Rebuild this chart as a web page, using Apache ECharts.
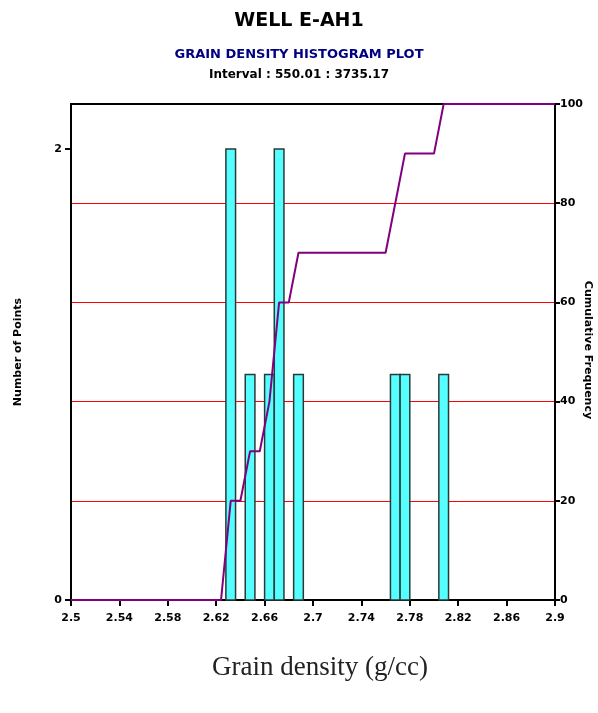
<!DOCTYPE html>
<html>
<head>
  <meta charset="utf-8">
  <title>grain density histogram</title>
  <script src="https://cdn.jsdelivr.net/npm/echarts@6/dist/echarts.min.js"></script>
  <style>
    html, body { margin: 0; padding: 0; background: #fff; }
    #main { width: 598px; height: 713px; }
  </style>
</head>
<body>
  <div id="main"></div>
  <script type="text/javascript">
    // histogram bins: start, end, count
    var binStart = [2.628, 2.644, 2.660, 2.668, 2.684, 2.764, 2.772, 2.804];
    var binEnd   = [2.636, 2.652, 2.668, 2.676, 2.692, 2.772, 2.780, 2.812];
    var counts   = [2, 1, 1, 2, 1, 1, 1, 1];

    // cumulative frequency line (vertices)
    var cumX = [2.5, 2.624, 2.632, 2.640, 2.648, 2.656, 2.664, 2.672, 2.680, 2.688, 2.760, 2.768, 2.776, 2.800, 2.808, 2.9];
    var cumY = [0, 0, 20, 20, 30, 30, 40, 60, 60, 70, 70, 80, 90, 90, 100, 100];

    var xTicks = ['2.5', '2.54', '2.58', '2.62', '2.66', '2.7', '2.74', '2.78', '2.82', '2.86', '2.9'];

    var bars = [];
    for (var i = 0; i < counts.length; i++) {
      bars.push([binStart[i], binEnd[i], counts[i]]);
    }
    var line = [];
    for (var j = 0; j < cumX.length; j++) {
      line.push([cumX[j], cumY[j]]);
    }

    var font = 'DejaVu Sans';
    var chart = echarts.init(document.getElementById('main'));

    var option = {
      animation: false,
      title: [
        { text: 'WELL E-AH1', left: 'center', top: 7,
          textStyle: { fontFamily: font, fontSize: 19, fontWeight: 'bold', color: '#000' } },
        { text: 'GRAIN DENSITY HISTOGRAM PLOT', left: 'center', top: 43,
          textStyle: { fontFamily: font, fontSize: 13, fontWeight: 'bold', color: '#000080' } },
        { text: 'Interval : 550.01 : 3735.17', left: 'center', top: 64,
          textStyle: { fontFamily: font, fontSize: 12, fontWeight: 'bold', color: '#000' } }
      ],
      grid: {
        left: 71, right: 43, top: 104, bottom: 113,
        containLabel: false, outerBoundsMode: 'none',
        show: true, borderColor: '#000', borderWidth: 2, backgroundColor: '#fff'
      },
      xAxis: {
        type: 'value',
        min: 2.5, max: 2.9, interval: 0.04,
        axisLine: { onZero: false, lineStyle: { color: '#000', width: 2 } },
        axisTick: { length: 6, lineStyle: { color: '#000', width: 2 } },
        splitLine: { show: false },
        axisLabel: {
          fontFamily: font, fontSize: 11, fontWeight: 'bold', color: '#000', margin: 13,
          formatter: function (v) {
            var k = Math.round((v - 2.5) / 0.04);
            return xTicks[k] !== undefined ? xTicks[k] : '';
          }
        }
      },
      yAxis: [
        {
          type: 'value', min: 0, max: 2.2,
          position: 'left',
          name: 'Number of Points', nameLocation: 'middle', nameRotate: 90, nameGap: 47,
          nameTextStyle: { fontFamily: font, fontSize: 11, fontWeight: 'bold', color: '#000' },
          axisLine: { show: true, lineStyle: { color: '#000', width: 2 } },
          axisTick: { show: true, length: 6, customValues: [0, 2], lineStyle: { color: '#000', width: 2 } },
          axisLabel: { customValues: [0, 2], fontFamily: font, fontSize: 11, fontWeight: 'bold', color: '#000', margin: 9 },
          splitLine: { show: false },
          splitArea: { show: false }
        },
        {
          type: 'value', min: 0, max: 100, interval: 20,
          position: 'right',
          axisLine: { show: true, lineStyle: { color: '#000', width: 2 } },
          axisTick: { show: true, length: 5, lineStyle: { color: '#000', width: 2 } },
          axisLabel: { fontFamily: font, fontSize: 11, fontWeight: 'bold', color: '#000', margin: 5 },
          splitLine: { show: true, showMaxLine: false, lineStyle: { color: '#ff0000', width: 1, opacity: 1 } }
        }
      ],
      graphic: [
        { type: 'text', x: 588, y: 350, rotation: -Math.PI / 2,
          style: { text: 'Cumulative Frequency', font: 'bold 11px "DejaVu Sans"', fill: '#000',
                   align: 'center', verticalAlign: 'middle' } },
        { type: 'text', left: 212, top: 654,
          style: { text: 'Grain density (g/cc)', font: '27px "Liberation Serif"', fill: '#222' } }
      ],
      series: [
        {
          type: 'custom',
          yAxisIndex: 0,
          z: 2,
          data: bars,
          encode: { x: [0, 1], y: 2 },
          renderItem: function (params, api) {
            var p0 = api.coord([api.value(0), api.value(2)]);
            var p1 = api.coord([api.value(1), 0]);
            return {
              type: 'rect',
              shape: { x: p0[0], y: p0[1], width: p1[0] - p0[0], height: p1[1] - p0[1] },
              style: { fill: '#55ffff', stroke: '#2a3a3a', lineWidth: 1.5 }
            };
          }
        },
        {
          type: 'line',
          yAxisIndex: 1,
          z: 3,
          data: line,
          showSymbol: false,
          lineStyle: { color: '#800080', width: 2 }
        }
      ]
    };
    chart.setOption(option);
  </script>
</body>
</html>
